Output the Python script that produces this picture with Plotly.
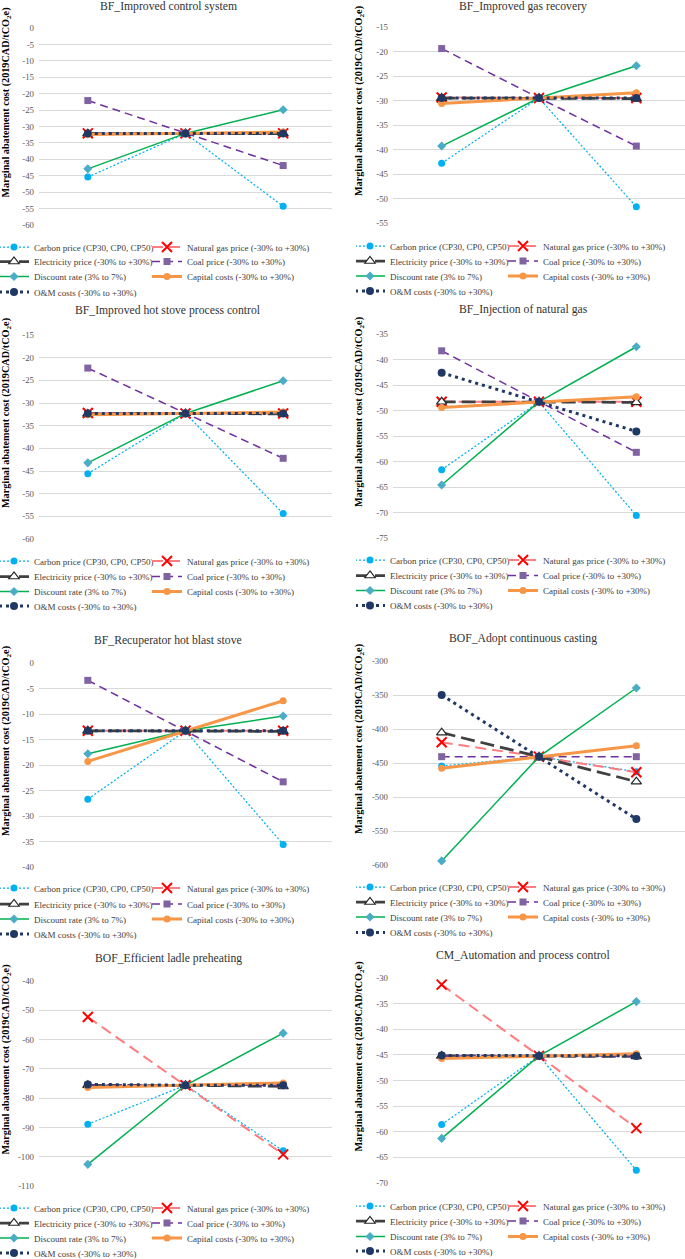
import plotly.graph_objects as go

W, H = 685, 1259

titles = ["BF_Improved control system", "BF_Improved gas recovery",
          "BF_Improved hot stove process control", "BF_Injection of natural gas",
          "BF_Recuperator hot blast stove", "BOF_Adopt continuous casting",
          "BOF_Efficient ladle preheating", "CM_Automation and process control"]

# low / base / high sensitivity case (no tick labels on the x axis)
scenarios = ["low", "base", "high"]

series_names = ["Carbon price (CP30, CP0, CP50)", "Natural gas price (-30% to +30%)",
                "Electricity price (-30% to +30%)", "Coal price (-30% to +30%)",
                "Discount rate (3% to 7%)", "Capital costs (-30% to +30%)",
                "O&M costs (-30% to +30%)"]

# one row per series, in the order of series_names
bf_control = [[-45.4, -32.1, -54.3], [-32.1, -32.1, -32.1], [-32.2, -32.1, -32.2],
              [-22.1, -32.1, -41.9], [-42.9, -32.1, -24.9], [-32.4, -32.1, -31.7],
              [-32.1, -32.1, -32.1]]
bf_gas_recovery = [[-42.8, -29.5, -51.7], [-29.4, -29.5, -29.5], [-29.5, -29.5, -29.6],
                   [-19.4, -29.5, -39.3], [-39.3, -29.5, -22.9], [-30.6, -29.5, -28.4],
                   [-29.5, -29.5, -29.5]]
bf_hot_stove = [[-45.6, -32.3, -54.4], [-32.2, -32.3, -32.3], [-32.4, -32.3, -32.4],
                [-22.3, -32.3, -42.2], [-43.2, -32.3, -25.1], [-32.6, -32.3, -32.0],
                [-32.3, -32.3, -32.3]]
bf_injection_ng = [[-61.6, -48.3, -70.6], [-48.3, -48.3, -48.3], [-48.3, -48.3, -48.4],
                   [-38.3, -48.3, -58.2], [-64.6, -48.3, -37.5], [-49.4, -48.3, -47.3],
                   [-42.6, -48.3, -54.1]]
bf_recuperator = [[-26.7, -13.3, -35.6], [-13.3, -13.3, -13.3], [-13.3, -13.3, -13.4],
                  [-3.4, -13.3, -23.3], [-17.8, -13.3, -10.4], [-19.3, -13.3, -7.4],
                  [-13.3, -13.3, -13.3]]
bof_casting = [[-454.4, -440.7, -462.7], [-419.6, -440.7, -463.7], [-405.4, -440.7, -477.5],
               [-440.7, -440.7, -440.7], [-594.0, -440.7, -339.7], [-457.8, -440.7, -424.5],
               [-350.0, -440.7, -532.4]]
bof_ladle = [[-88.9, -75.6, -98.0], [-52.3, -75.6, -99.2], [-75.6, -75.6, -76.0],
             [-75.6, -75.6, -75.6], [-102.6, -75.6, -57.8], [-76.4, -75.6, -74.8],
             [-75.3, -75.6, -75.6]]
cm_automation = [[-58.6, -45.2, -67.5], [-31.3, -45.2, -59.3], [-45.2, -45.2, -45.3],
                 [-45.2, -45.2, -45.2], [-61.3, -45.2, -34.6], [-45.7, -45.2, -44.8],
                 [-45.1, -45.2, -45.2]]

panels = [bf_control, bf_gas_recovery, bf_hot_stove, bf_injection_ng,
          bf_recuperator, bof_casting, bof_ladle, cm_automation]

# y axis (bottom, top, step) per panel
y_axes = [(-60, 0, 5), (-55, -15, 5), (-60, -15, 5), (-75, -35, 5),
          (-40, 0, 5), (-600, -300, 50), (-110, -40, 10), (-70, -30, 5)]

styles = [
    dict(line=dict(color="#00B0F0", width=1.25, dash="2px,2px"),
         marker=dict(symbol="circle", size=7, color="#00B0F0")),
    dict(line=dict(color="#FF7C80", width=2, dash="11px,6px"),
         marker=dict(symbol="x-thin", size=10, color="#FF0000", line=dict(color="#FF0000", width=2))),
    dict(line=dict(color="#404040", width=2.75, dash="14px,6px"),
         marker=dict(symbol="triangle-up", size=9, color="white", line=dict(color="#262626", width=1.2))),
    dict(line=dict(color="#7030A0", width=1.5, dash="8px,5px"),
         marker=dict(symbol="square", size=7, color="#8064A2")),
    dict(line=dict(color="#00B050", width=1.5),
         marker=dict(symbol="diamond", size=7, color="#4BACC6")),
    dict(line=dict(color="#F79646", width=3),
         marker=dict(symbol="circle", size=7, color="#F79646")),
    dict(line=dict(color="#1F3864", width=3, dash="3px,4px"),
         marker=dict(symbol="circle", size=8, color="#1F3864")),
]

# layout in pixels
col_x = [(39, 332), (393, 685)]
plot_px = [(28, 225), (27, 223), (335, 539), (334, 538),
           (663, 867), (661, 865), (981, 1186), (978, 1183)]
title_y = [7, 7, 311, 310, 640, 638, 958, 955]
title_x = [168, 523]
ytitle_x = [6, 359]
legend_x = [0, 356]
legend_rows = [[247, 261.5, 276.5, 292], [246, 261, 276, 291],
               [561, 576.5, 591.5, 606], [560, 575.5, 590.5, 605.5],
               [888, 904, 919, 934], [887, 902, 917, 932.5],
               [1208, 1223, 1238, 1253], [1206, 1221, 1236.5, 1251]]

serif = "Liberation Serif, Times New Roman, serif"

fig = go.Figure()
annotations = []
layout = {}

for p, vals in enumerate(panels):
    n = p + 1
    col = p % 2
    sfx = "" if n == 1 else str(n)
    for s, yv in enumerate(vals):
        lnum = p * 4 + s // 2 + 1
        lid = "legend" if lnum == 1 else f"legend{lnum}"
        fig.add_trace(go.Scatter(
            x=scenarios, y=yv, name=series_names[s], mode="lines+markers",
            xaxis="x" + sfx, yaxis="y" + sfx, legend=lid,
            legendwidth=114 if s % 2 == 0 else 200,
            line=styles[s]["line"], marker=styles[s]["marker"], hoverinfo="y+name"))

    lo, hi, step = y_axes[p]
    ticks = list(range(hi, lo - 1, -step))
    top, bot = plot_px[p]
    x0, x1 = col_x[col]
    layout["xaxis" + sfx] = dict(domain=[x0 / W, x1 / W], anchor="y" + sfx, type="category",
                                 range=[-0.5, 2.5], showticklabels=False, showgrid=False,
                                 zeroline=False, showline=False, ticks="")
    layout["yaxis" + sfx] = dict(domain=[1 - bot / H, 1 - top / H], anchor="x" + sfx,
                                 range=[lo, hi], tickvals=ticks, ticktext=[str(t) for t in ticks],
                                 showgrid=True, gridcolor="#D9D9D9", gridwidth=1,
                                 zeroline=False, showline=False, ticks="", ticklabelstandoff=4,
                                 tickfont=dict(family=serif, size=8.8, color="#595959"))

    annotations.append(dict(text=titles[p], x=title_x[col] / W, y=1 - title_y[p] / H,
                            xref="paper", yref="paper", showarrow=False,
                            xanchor="center", yanchor="middle",
                            font=dict(family=serif, size=11.7, color="#333333")))
    annotations.append(dict(text="<b>Marginal abatement cost (2019CAD/tCO<sub>2</sub>e)</b>",
                            x=ytitle_x[col] / W, y=1 - ((top + bot) / 2 - 24) / H,
                            xref="paper", yref="paper", showarrow=False, textangle=-90,
                            xanchor="center", yanchor="middle",
                            font=dict(family=serif, size=10.2, color="#000000")))

    for r in range(4):
        lnum = p * 4 + r + 1
        lid = "legend" if lnum == 1 else f"legend{lnum}"
        layout[lid] = dict(x=legend_x[col] / W, xanchor="left",
                           y=1 - (legend_rows[p][r] - 14.5) / H, yanchor="top",
                           orientation="h", indentation=-6, bgcolor="rgba(0,0,0,0)",
                           borderwidth=0, font=dict(family=serif, size=9.0, color="#404040"))

fig.update_layout(**layout)
fig.update_layout(width=W, height=H, annotations=annotations, showlegend=True,
                  margin=dict(l=0, r=0, t=0, b=0, autoexpand=False),
                  paper_bgcolor="white", plot_bgcolor="white")

# the page body has a default 8px margin; drop it so the figure fills the window
fig.write_html("out.html", config={"displayModeBar": False},
               post_script="document.body.style.margin='0px';")
